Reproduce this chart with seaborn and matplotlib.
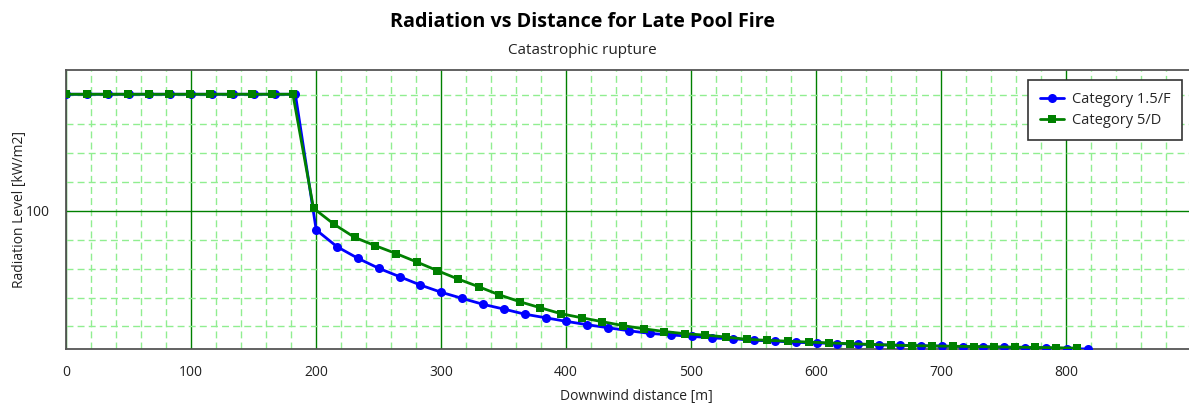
import numpy as np
import pandas as pd
import matplotlib.pyplot as plt
import seaborn as sns
from matplotlib.ticker import MultipleLocator

# Data
dist_15F = [16.68 * i for i in range(50)]
rad_15F = [180.5] * 12 + [
    86.7, 75.1, 67.1, 60.2, 54.4, 48.6, 43.6, 39.4, 35.3, 32.0,
    28.5, 26.0, 23.5, 21.2, 19.1, 17.0, 15.2, 14.1, 13.2, 12.0,
    11.5, 10.4, 9.9, 9.0, 8.6, 8.2, 7.7, 7.3, 7.0, 6.7,
    6.4, 6.1, 5.9, 5.6, 5.3, 5.0, 4.7, 4.4]

dist_5D = [16.5 * i for i in range(50)]
rad_5D = [180.5] * 12 + [
    101.7, 90.6, 81.5, 75.8, 70.4, 64.6, 58.6, 52.8, 47.5, 41.9,
    37.1, 32.9, 28.8, 26.0, 23.3, 20.6, 18.4, 16.5, 15.0, 14.0,
    12.7, 11.1, 10.4, 9.8, 9.2, 8.6, 8.1, 7.6, 7.1, 6.7,
    6.5, 6.3, 6.1, 5.9, 5.7, 5.5, 5.3, 5.0]

series_names = ["Category 1.5/F", "Category 5/D"]

sns.set_style("white")
plt.rcParams['font.family'] = ['Open Sans', 'DejaVu Sans']

fig = plt.figure(figsize=(11.89, 4.07), dpi=100)
ax = fig.add_axes([66 / 1189, 1 - 349.3 / 407, 1 - 66 / 1189, (349.3 - 69.5) / 407])

df_f = pd.DataFrame({"x": dist_15F, "y": rad_15F})
df_d = pd.DataFrame({"x": dist_5D, "y": rad_5D})

sns.lineplot(data=df_f, x="x", y="y", ax=ax, color="#0000FF", marker="o",
             markersize=6.5, markeredgewidth=0, linewidth=2, label=series_names[0], zorder=3)
sns.lineplot(data=df_d, x="x", y="y", ax=ax, color="#008000", marker="s",
             markersize=6, markeredgewidth=0, linewidth=2, label=series_names[1], zorder=3)

ax.set_xlim(0, 898.4)
ax.set_ylim(4.2, 197.6)

ax.xaxis.set_major_locator(MultipleLocator(100))
ax.xaxis.set_minor_locator(MultipleLocator(20))
ax.yaxis.set_major_locator(MultipleLocator(100))
ax.yaxis.set_minor_locator(MultipleLocator(20))

ax.grid(which="minor", color="#90EE90", linestyle=(0, (5, 3)), linewidth=1, zorder=0)
ax.grid(which="major", color="#008000", linestyle="-", linewidth=1, zorder=1)
ax.set_axisbelow(True)

ax.tick_params(axis="both", which="major", direction="out", length=8, width=1,
               color="#333333", labelsize=10, labelcolor="#222222")
ax.tick_params(axis="both", which="minor", direction="out", length=5, width=1, color="#333333")

for side in ["left", "bottom", "top"]:
    ax.spines[side].set_color("#555555")
    ax.spines[side].set_linewidth(1.3)
ax.spines["right"].set_visible(False)

ax.set_xlabel("Downwind distance [m]", fontsize=10, color="#222222")
ax.set_ylabel("Radiation Level [kW/m2]", fontsize=10, color="#222222")
ax.xaxis.set_label_coords((636 - 66) / (1189 - 66), -0.142)
ax.yaxis.set_label_coords(-0.035, 0.5)

leg = ax.legend(loc="upper left", bbox_to_anchor=(1028 / 1189, 1 - 80 / 407),
                bbox_transform=fig.transFigure, fontsize=10.5, frameon=True,
                fancybox=False, borderpad=0.8, borderaxespad=0, handlelength=1.7,
                handletextpad=0.5, labelspacing=0.45)
leg.get_frame().set_edgecolor("#333333")
leg.get_frame().set_linewidth(1.2)
leg.get_frame().set_alpha(1)

fig.text(582 / 1189, 1 - 22 / 407, "Radiation vs Distance for Late Pool Fire",
         ha="center", va="center", fontsize=14.2, fontweight="bold", color="black")
fig.text(582 / 1189, 1 - 50 / 407, "Catastrophic rupture",
         ha="center", va="center", fontsize=11, color="#222222")

fig.savefig("out.png", dpi=100)
